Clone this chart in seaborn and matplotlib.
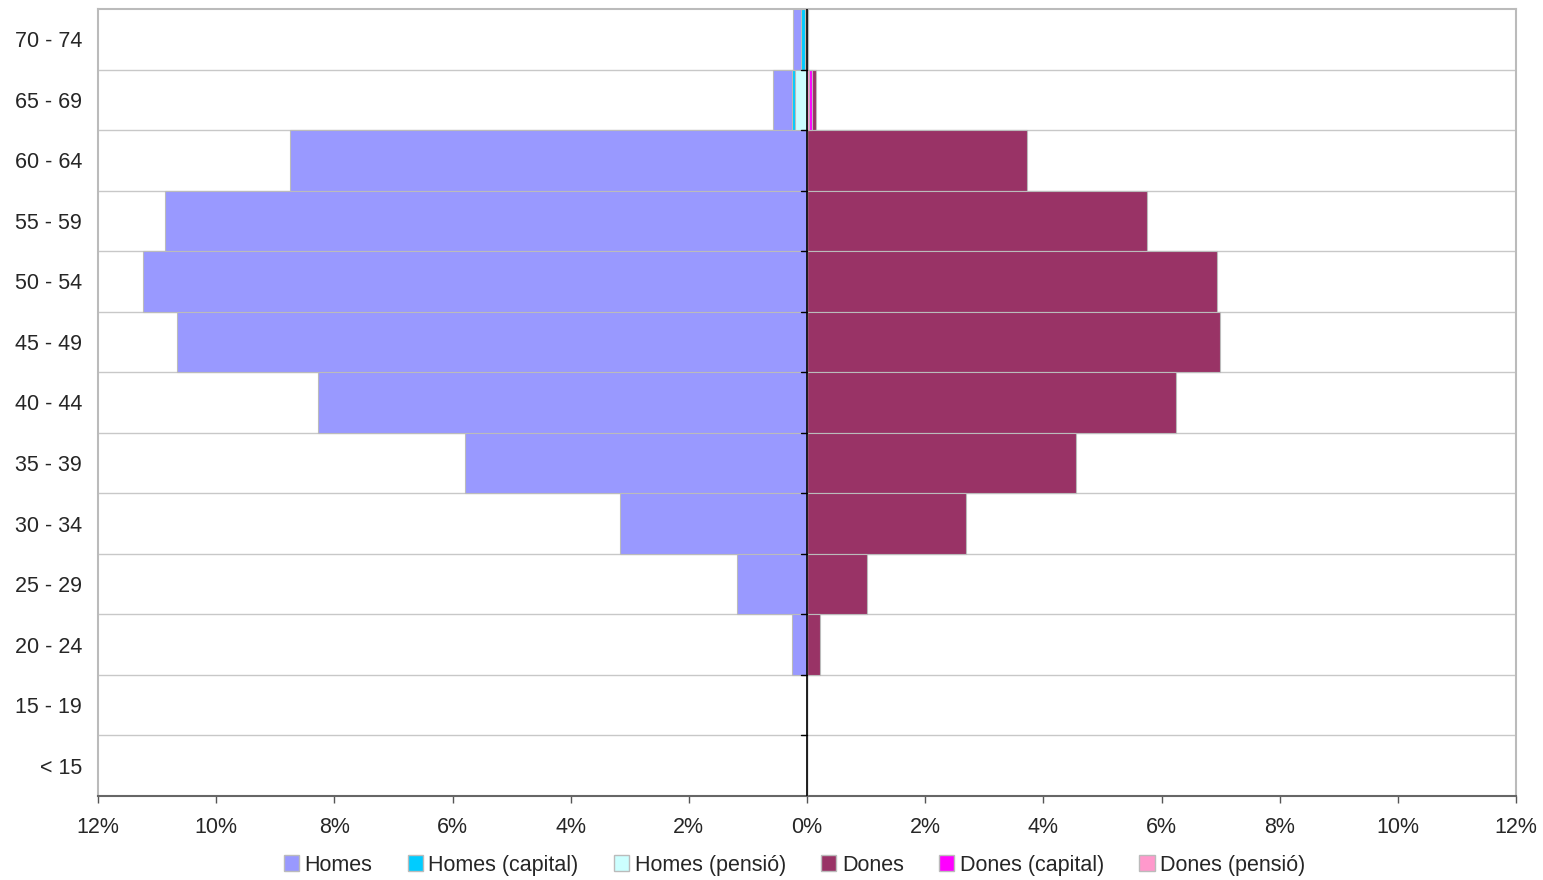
import matplotlib
matplotlib.use('Agg')
import matplotlib.pyplot as plt
from matplotlib.patches import Patch
import seaborn as sns
import pandas as pd
import numpy as np

# Grups d'edat (de dalt a baix)
edats = ['70 - 74', '65 - 69', '60 - 64', '55 - 59', '50 - 54', '45 - 49', '40 - 44',
         '35 - 39', '30 - 34', '25 - 29', '20 - 24', '15 - 19', '< 15']

# Percentatges
homes = [0.13, 0.32, 8.75, 10.87, 11.24, 10.66, 8.28, 5.79, 3.17, 1.18, 0.25, 0.0, 0.0]
homes_capital = [0.07, 0.05, 0, 0, 0, 0, 0, 0, 0, 0, 0, 0, 0]
homes_pensio = [0.04, 0.20, 0, 0, 0, 0, 0, 0, 0, 0, 0, 0, 0]
dones = [0.0, 0.06, 3.72, 5.75, 6.94, 6.99, 6.25, 4.55, 2.69, 1.02, 0.22, 0.0, 0.0]
dones_capital = [0.02, 0.06, 0, 0, 0, 0, 0, 0, 0, 0, 0, 0, 0]
dones_pensio = [0.0, 0.03, 0, 0, 0, 0, 0, 0, 0, 0, 0, 0, 0]

colors = {
    'Homes': '#9999FF', 'Homes (capital)': '#00CCFF', 'Homes (pensió)': '#CCFFFF',
    'Dones': '#993366', 'Dones (capital)': '#FF00FF', 'Dones (pensió)': '#FF99CC',
}

sns.set_style('white')
plt.rcParams['font.family'] = ['Liberation Sans', 'DejaVu Sans']
FS = 15.5

df = pd.DataFrame({'edat': edats})
h_p = np.array(homes_pensio)
h_c = h_p + np.array(homes_capital)
h_t = h_c + np.array(homes)
d_p = np.array(dones_pensio)
d_c = d_p + np.array(dones_capital)
d_t = d_c + np.array(dones)

fig = plt.figure(figsize=(15.43, 8.80), dpi=100)
ax = fig.add_axes([98 / 1543, 1 - 796 / 880, (1516 - 98) / 1543, (796 - 9) / 880])

# barres apilades: es dibuixen els totals acumulats de fora cap a dins
layers = [(-h_t, 'Homes'), (-h_c, 'Homes (capital)'), (-h_p, 'Homes (pensió)'),
          (d_t, 'Dones'), (d_c, 'Dones (capital)'), (d_p, 'Dones (pensió)')]
for vals, name in layers:
    sns.barplot(x=vals, y=df['edat'], order=edats, orient='h', color=colors[name],
                width=1.0, edgecolor='#BBBBBB', linewidth=0.8, saturation=1, ax=ax, zorder=3)

ax.set_xlim(-12, 12)
ax.set_ylim(len(edats) - 0.5, -0.5)
ax.set_xticks(np.arange(-12, 13, 2))
ax.set_xticklabels([f'{abs(v)}%' for v in range(-12, 13, 2)], fontsize=FS)
ax.set_yticks(range(len(edats)))
ax.set_yticklabels(edats, fontsize=FS)
ax.tick_params(axis='y', length=0, pad=11.5)
ax.tick_params(axis='x', length=5, width=1, color='#555555', direction='out', pad=10, bottom=True)
ax.set_xlabel('')
ax.set_ylabel('')

# línies horitzontals entre grups
for b in np.arange(0.5, len(edats) - 0.5, 1):
    ax.axhline(b, color='#C8C8C8', lw=1, zorder=1)
    ax.plot([-0.1, 0], [b, b], color='black', lw=1, zorder=5)
ax.axvline(0, color='black', lw=1.2, zorder=5)

for s in ['top', 'right', 'left']:
    ax.spines[s].set_color('#BBBBBB')
    ax.spines[s].set_linewidth(1.5)
ax.spines['bottom'].set_color('#666666')
ax.spines['bottom'].set_linewidth(1.5)

handles = [Patch(facecolor=c, edgecolor='#BBBBBB', label=n) for n, c in colors.items()]
fig.legend(handles=handles, loc='center', bbox_to_anchor=(0.515, 0.017), ncol=6, frameon=False,
           fontsize=FS, handlelength=0.7, handleheight=0.7, handletextpad=0.25, columnspacing=1.65)

fig.savefig('out.png', dpi=100)
